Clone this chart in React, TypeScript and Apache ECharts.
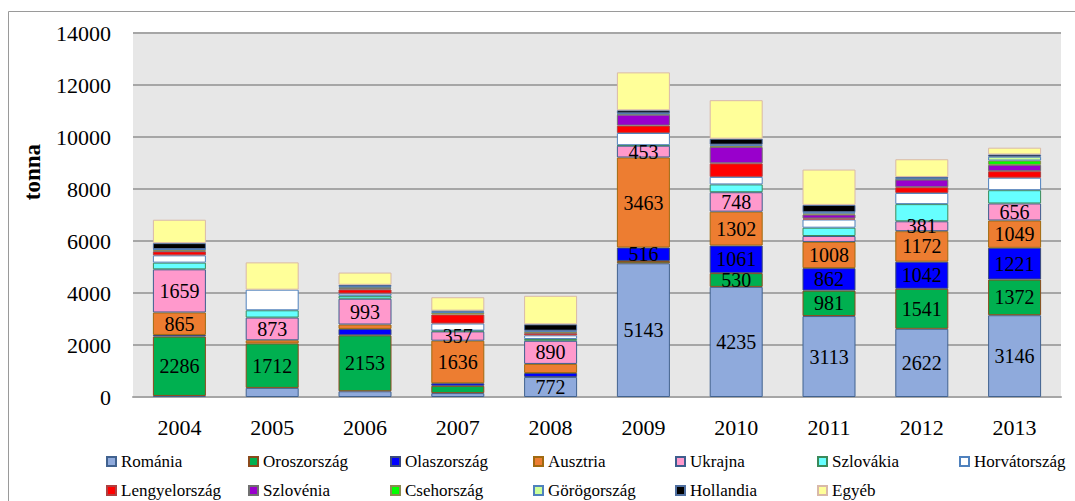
import React, { useEffect, useRef } from "react";
import * as echarts from "echarts";

const years = ["2004", "2005", "2006", "2007", "2008", "2009", "2010", "2011", "2012", "2013"];
const yTicks = { min: 0, max: 14000, interval: 2000 };

const romania = [40, 350, 220, 150, 772, 5143, 4235, 3113, 2622, 3146];
const oroszorszag = [2286, 1712, 2153, 280, 0, 90, 530, 981, 1541, 1372];
const olaszorszag = [60, 0, 245, 100, 150, 516, 1061, 862, 1042, 1221];
const ausztria = [865, 120, 170, 1636, 350, 3463, 1302, 1008, 1172, 1049];
const ukrajna = [1659, 873, 993, 357, 890, 453, 748, 228, 381, 656];
const szlovakia = [258, 280, 110, 30, 70, 20, 300, 320, 660, 510];
const horvatorszag = [280, 793, 90, 273, 140, 470, 290, 315, 430, 480];
const lengyelorszag = [150, 0, 154, 346, 80, 283, 520, 40, 219, 250];
const szlovenia = [30, 0, 50, 0, 30, 422, 630, 150, 294, 245];
const csehorszag = [40, 0, 40, 60, 30, 20, 40, 40, 20, 165];
const gorogorszag = [20, 0, 27, 60, 38, 30, 50, 50, 22, 150];
const hollandia = [230, 0, 64, 30, 246, 116, 230, 282, 60, 85];
const egyeb = [900, 1050, 470, 515, 1097, 1460, 1480, 1359, 681, 260];

// which values carry a data label (1 = shown)
const romaniaLabels = [0, 0, 0, 0, 1, 1, 1, 1, 1, 1];
const oroszLabels = [1, 1, 1, 0, 0, 0, 1, 1, 1, 1];
const olaszLabels = [0, 0, 0, 0, 0, 1, 1, 1, 1, 1];
const ausztriaLabels = [1, 0, 0, 1, 0, 1, 1, 1, 1, 1];
const ukrajnaLabels = [1, 1, 1, 1, 1, 1, 1, 0, 1, 1];
const noLabels = [0, 0, 0, 0, 0, 0, 0, 0, 0, 0];

const seriesDefs = [
  { name: "Románia", values: romania, labels: romaniaLabels, color: "#8FAADC", border: "#41628F" },
  { name: "Oroszország", values: oroszorszag, labels: oroszLabels, color: "#00B050", border: "#8B4A1C" },
  { name: "Olaszország", values: olaszorszag, labels: olaszLabels, color: "#0000FF", border: "#3A4A7A" },
  { name: "Ausztria", values: ausztria, labels: ausztriaLabels, color: "#ED7D31", border: "#A06A10" },
  { name: "Ukrajna", values: ukrajna, labels: ukrajnaLabels, color: "#FF99CC", border: "#3E5E8E" },
  { name: "Szlovákia", values: szlovakia, labels: noLabels, color: "#66FFFF", border: "#3C8A5A" },
  { name: "Horvátország", values: horvatorszag, labels: noLabels, color: "#FFFFFF", border: "#4F81BD" },
  { name: "Lengyelország", values: lengyelorszag, labels: noLabels, color: "#FF0000", border: "#B04040" },
  { name: "Szlovénia", values: szlovenia, labels: noLabels, color: "#9900CC", border: "#707070" },
  { name: "Csehország", values: csehorszag, labels: noLabels, color: "#00FF00", border: "#8A8A50" },
  { name: "Görögország", values: gorogorszag, labels: noLabels, color: "#CCFF99", border: "#4F81BD" },
  { name: "Hollandia", values: hollandia, labels: noLabels, color: "#000000", border: "#4F6FA0" },
  { name: "Egyéb", values: egyeb, labels: noLabels, color: "#FFFF99", border: "#D9B9A9" },
];

const FONT = "Liberation Serif";

export default function App() {
  const ref = useRef<HTMLDivElement>(null);

  useEffect(() => {
    if (!ref.current) return;
    const chart = echarts.init(ref.current, undefined, { renderer: "svg" });

    const colLefts = [106, 248, 390, 533, 675, 817, 959];
    const legends = seriesDefs.map((s, i) => {
      const row = i < 7 ? 0 : 1;
      const col = i < 7 ? i : i - 7;
      return {
        data: [s.name],
        left: colLefts[col],
        top: row === 0 ? 453 : 482,
        padding: 0,
        icon: "rect",
        itemWidth: 9,
        itemHeight: 9,
        selectedMode: false,
        textStyle: { fontFamily: FONT, fontSize: 17, color: "#000" },
      };
    });

    const series = seriesDefs.map((s) => ({
      name: s.name,
      type: "bar",
      stack: "total",
      barWidth: 53,
      itemStyle: { color: s.color, borderColor: s.border, borderWidth: 1 },
      label: {
        show: false,
        position: "inside",
        fontFamily: FONT,
        fontSize: 20,
        lineHeight: 14,
        color: "#000",
      },
      emphasis: { disabled: true },
      data: s.values.map((v, i) => {
        const item: any = { value: v };
        if (v === 0) item.itemStyle = { borderWidth: 0 };
        if (s.labels[i]) item.label = { show: true };
        return item;
      }),
    }));

    chart.setOption({
      animation: false,
      backgroundColor: "#FFFFFF",
      textStyle: { fontFamily: FONT },
      grid: {
        left: 133,
        right: 14,
        top: 33,
        bottom: 104,
        show: true,
        backgroundColor: "#E7E7E7",
        borderWidth: 0,
      },
      legend: legends,
      xAxis: {
        type: "category",
        data: years,
        axisTick: { show: false },
        axisLine: { lineStyle: { color: "#A6A6A6", width: 2 } },
        axisLabel: { fontFamily: FONT, fontSize: 22, color: "#000", margin: 19 },
      },
      yAxis: {
        type: "value",
        min: yTicks.min,
        max: yTicks.max,
        interval: yTicks.interval,
        axisLine: { show: false },
        axisTick: { show: false },
        splitLine: { lineStyle: { color: "#A6A6A6", width: 2 } },
        axisLabel: {
          fontFamily: FONT,
          fontSize: 22,
          color: "#000",
          margin: 22,
          formatter: (v: number) => String(v),
        },
      },
      graphic: [
        {
          type: "line",
          shape: { x1: 8.5, y1: 11.5, x2: 1075, y2: 11.5 },
          style: { stroke: "#9A9A9A", lineWidth: 1 },
          silent: true,
        },
        {
          type: "line",
          shape: { x1: 8.5, y1: 11.5, x2: 8.5, y2: 501 },
          style: { stroke: "#9A9A9A", lineWidth: 1 },
          silent: true,
        },
        {
          type: "text",
          x: 32,
          y: 172,
          rotation: Math.PI / 2,
          style: {
            text: "tonna",
            fontFamily: FONT,
            fontSize: 23,
            fontWeight: "bold",
            fill: "#000",
            textAlign: "center",
            textVerticalAlign: "middle",
          },
        },
      ],
      series,
    });

    return () => chart.dispose();
  }, []);

  return (
    <div
      ref={ref}
      style={{ position: "absolute", left: 0, top: 0, width: 1075, height: 501 }}
    />
  );
}
